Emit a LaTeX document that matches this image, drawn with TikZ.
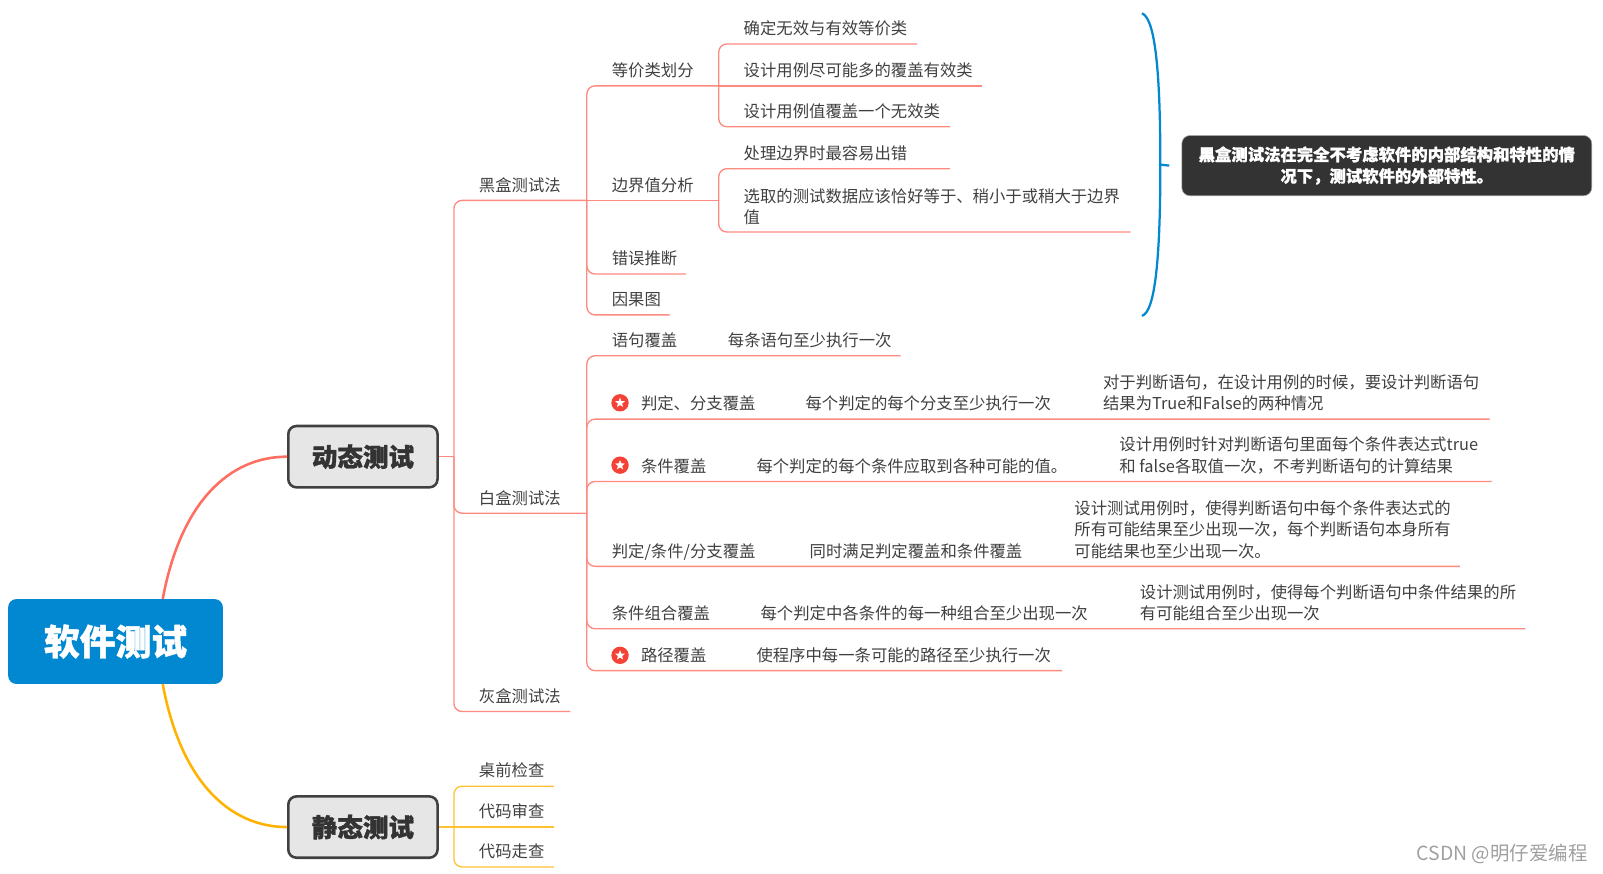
\documentclass[tikz,border=0pt]{standalone}
\usepackage{fontspec}
\setmainfont{Noto Sans CJK SC}
\newfontfamily\heavyfont[BoldFeatures={FakeBold=1.2}]{Noto Sans CJK SC}
\usetikzlibrary{shapes.geometric}

\definecolor{rootblue}{HTML}{0288D1}
\definecolor{curvered}{HTML}{FF6F61}
\definecolor{stemred}{HTML}{FF8A80}
\definecolor{curveamber}{HTML}{FFB300}
\definecolor{stemamber}{HTML}{FFC233}
\definecolor{textgray}{HTML}{404040}
\definecolor{boxgray}{HTML}{E6E6E6}
\definecolor{notedark}{HTML}{333333}
\definecolor{starred}{HTML}{F44336}

\tikzset{
  rootbox/.style={rectangle, rounded corners=8pt, fill=rootblue, text=white, minimum width=210pt, minimum height=83pt, inner sep=0pt, font=\fontsize{35}{40}\heavyfont\bfseries},
  mainbox/.style={rectangle, rounded corners=8pt, draw=textgray, line width=2.5pt, fill=boxgray, text=notedark, minimum width=146pt, minimum height=60pt, inner sep=0pt, font=\fontsize{25}{30}\heavyfont\bfseries},
  topic/.style={anchor=south west, inner xsep=0pt, inner ysep=7pt, outer sep=0pt, text depth=2pt, text=textgray, font=\fontsize{16}{21}\selectfont, execute at begin node={\leftskip=24.5pt}},
  startopic/.style={topic, execute at begin node={\leftskip=53pt}},
  remark/.style={anchor=south west, inner xsep=0pt, inner ysep=7pt, outer sep=0pt, text depth=2pt, align=left, text=textgray, font=\fontsize{16}{21}\selectfont},
  redcurve/.style={draw=curvered, line width=2.5pt},
  ambercurve/.style={draw=curveamber, line width=2.5pt},
  redstem/.style={draw=stemred, line width=1.3pt, rounded corners=8pt},
  amberstem/.style={draw=stemamber, line width=1.3pt, rounded corners=8pt},
  stardot/.style={circle, fill=starred, minimum size=17pt, inner sep=0pt, path picture={\node[star, star points=5, star point ratio=2.3, fill=white, inner sep=0pt, minimum size=10pt] (starin) at (path picture bounding box.center) {};}},
}

\begin{document}
\begin{tikzpicture}[x=1pt,y=-1pt]
\useasboundingbox (0,0) rectangle (1568,854);

% 中心与两个主分支
\node[rootbox] (root) at (113,627.5) {软件测试};
\node[mainbox] (dongtai) at (355,446.7) {动态测试};
\node[mainbox] (jingtai) at (355,809) {静态测试};

\draw[redcurve] ([xshift=-59pt]root.north east) .. controls (177,490) and (225,446.7) .. (dongtai.west);
\draw[ambercurve] ([xshift=-59pt]root.south east) .. controls (177,765) and (225,809) .. (jingtai.west);

% 第二层
\coordinate (dongstem) at (444,446.7);
\coordinate (jingstem) at (444,809);
\node[topic, text width=130pt] (heihe) at (444,196) {黑盒测试法};
\node[topic, text width=130pt] (baihe) at (444,502) {白盒测试法};
\node[topic, text width=114pt] (huihe) at (444,696) {灰盒测试法};
\node[topic, text width=98pt] (zhuoqian) at (444,769) {桌前检查};
\node[topic, text width=98pt] (shencha) at (444,809) {代码审查};
\node[topic, text width=98pt] (zoucha) at (444,848) {代码走查};

\draw[redstem] (dongtai.east) -- (dongstem);
\draw[redstem] (dongstem) |- (heihe.south east);
\draw[redstem] (dongstem) |- (baihe.south east);
\draw[redstem] (dongstem) |- (huihe.south east);
\draw[amberstem] (jingtai.east) -- (shencha.south east);
\draw[amberstem] (jingstem) |- (zhuoqian.south east);
\draw[amberstem] (jingstem) |- (zoucha.south east);

% 黑盒
\node[topic, text width=129pt] (dengjia) at (574,84) {等价类划分};
\node[topic, text width=129pt] (bianjie) at (574,196) {边界值分析};
\node[topic, text width=97pt] (cuowu) at (574,268) {错误推断};
\node[topic, text width=81pt] (yinguo) at (574,308) {因果图};

\draw[redstem] (heihe.south east) |- (dengjia.south east);
\draw[redstem] (heihe.south east) -- (bianjie.south east);
\draw[redstem] (heihe.south east) |- (cuowu.south east);
\draw[redstem] (heihe.south east) |- (yinguo.south east);

\node[topic, text width=194pt] (queding) at (703,43) {确定无效与有效等价类};
\node[topic, text width=258pt] (jinke) at (703,84) {设计用例尽可能多的覆盖有效类};
\node[topic, text width=226pt] (yige) at (703,124) {设计用例值覆盖一个无效类};
\node[topic, text width=226pt] (chuli) at (703,165) {处理边界时最容易出错};
\node[topic, text width=403pt, text depth=] (xuanqu) at (703,227) {选取的测试数据应该恰好等于、稍小于或稍大于边界\\值};

\draw[redstem] (dengjia.south east) |- (queding.south east);
\draw[redstem] (dengjia.south east) -- (jinke.south east);
\draw[redstem] (dengjia.south east) |- (yige.south east);
\draw[redstem] (bianjie.south east) |- (chuli.south east);
\draw[redstem] (bianjie.south east) |- (xuanqu.south east);

% 大括号与说明
\node[rectangle, rounded corners=8pt, draw=gray!70, line width=0.6pt, fill=notedark, text=white, minimum width=401pt, minimum height=59pt, inner sep=0pt, align=center, font=\fontsize{16}{21}\heavyfont\bfseries] (heinote) at (1356.5,162) {黑盒测试法在完全不考虑软件的内部结构和特性的情\\况下，测试软件的外部特性。};
\coordinate (bracetop) at (1117,13);
\coordinate (bracemid) at (1135,161);
\coordinate (bracebot) at (1117,309);
\draw[rootblue, line width=2.2pt] (bracetop) .. controls (1130,18) and (1135,70) .. (bracemid) .. controls (1135,252) and (1130,305) .. (bracebot);
\draw[rootblue, line width=2.2pt] (bracemid) -- ([xshift=-12pt]heinote.west);

% 白盒
\node[topic, text width=307pt] (yuju) at (574,348) {语句覆盖};
\node[startopic, text width=883pt] (panding) at (574,410) {判定、分支覆盖};
\node[startopic, text width=885pt] (tiaojian) at (574,471) {条件覆盖};
\node[topic, text width=854pt] (pantiao) at (574,554) {判定/条件/分支覆盖};
\node[topic, text width=918pt] (zuhe) at (574,615) {条件组合覆盖};
\node[startopic, text width=465pt] (lujing) at (574,656) {路径覆盖};

\draw[redstem] (baihe.south east) |- (yuju.south east);
\draw[redstem] (baihe.south east) |- (panding.south east);
\draw[redstem] (baihe.south east) |- (tiaojian.south east);
\draw[redstem] (baihe.south east) |- (pantiao.south east);
\draw[redstem] (baihe.south east) |- (zuhe.south east);
\draw[redstem] (baihe.south east) |- (lujing.south east);

\node[stardot] (stara) at (606.5,394) {};
\node[stardot] (starb) at (606.5,455) {};
\node[stardot] (starc) at (606.5,641) {};

\node[remark] (yujunote) at (712,348) {每条语句至少执行一次};
\node[remark] (pandingnote) at (788,410) {每个判定的每个分支至少执行一次};
\node[remark] (pandingmore) at (1079,410) {对于判断语句，在设计用例的时候，要设计判断语句\\结果为True和False的两种情况};
\node[remark] (tiaojiannote) at (740,471) {每个判定的每个条件应取到各种可能的值。};
\node[remark] (tiaojianmore) at (1095,471) {设计用例时针对判断语句里面每个条件表达式true\\和 false各取值一次，不考判断语句的计算结果};
\node[remark] (pantiaonote) at (792,554) {同时满足判定覆盖和条件覆盖};
\node[remark] (pantiaomore) at (1051,554) {设计测试用例时，使得判断语句中每个条件表达式的\\所有可能结果至少出现一次，每个判断语句本身所有\\可能结果也至少出现一次。};
\node[remark] (zuhenote) at (744,615) {每个判定中各条件的每一种组合至少出现一次};
\node[remark] (zuhemore) at (1115,615) {设计测试用例时，使得每个判断语句中条件结果的所\\有可能组合至少出现一次};
\node[remark] (lujingnote) at (740,656) {使程序中每一条可能的路径至少执行一次};

% 水印
\node[anchor=east, inner sep=0pt, text=gray!75, font=\fontsize{19}{22}\selectfont] (mark) at (1553,835) {CSDN @明仔爱编程};

\end{tikzpicture}
\end{document}
